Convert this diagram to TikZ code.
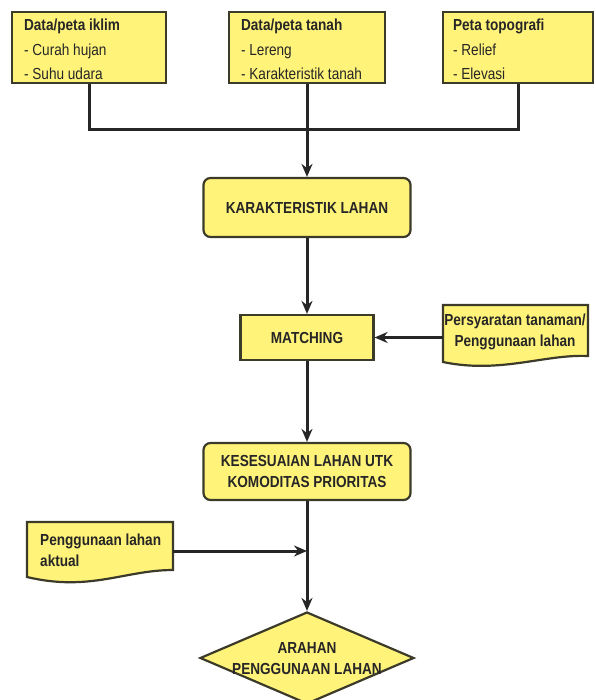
\documentclass[tikz,border=0pt]{standalone}
\usepackage{fontspec}
\setmainfont{Liberation Sans}[FakeStretch=0.85]
\usetikzlibrary{arrows.meta,shapes.geometric}

\definecolor{boxfill}{RGB}{255,243,122}
\definecolor{boxline}{RGB}{60,58,40}
\tikzset{
  box/.style={draw=boxline, fill=boxfill, line width=2.2pt},
  topbox/.style={box, minimum width=#1, minimum height=71pt, inner sep=0pt},
  roundbox/.style={box, rounded corners=7pt, minimum width=207pt, inner sep=0pt,
    font=\fontsize{16}{21}\selectfont\bfseries, align=center, text=black!85},
  txt/.style={inner sep=0pt, font=\fontsize{16}{24.5}\selectfont, align=left, text=black!85},
  doctxt/.style={inner sep=0pt, font=\fontsize{16}{21}\selectfont\bfseries, text=black!85},
  conn/.style={line width=3pt, draw=black!85},
  arr/.style={conn, -{Stealth[length=13pt,width=11pt]}},
}

\begin{document}
\begin{tikzpicture}[x=1pt,y=-1pt]
  \useasboundingbox (0,0) rectangle (595,700);

  % data sources
  \node[topbox=154pt] (iklim) at (89,47.5) {};
  \node[txt, anchor=north west] (iklimtxt) at ([xshift=13pt,yshift=-8pt]iklim.north west)
    {\textbf{Data/peta iklim}\\- Curah hujan\\- Suhu udara};
  \node[topbox=156pt] (tanah) at (307,47.5) {};
  \node[txt, anchor=north west] (tanahtxt) at ([xshift=13pt,yshift=-8pt]tanah.north west)
    {\textbf{Data/peta tanah}\\- Lereng\\- Karakteristik tanah};
  \node[topbox=150pt] (topo) at (518,47.5) {};
  \node[txt, anchor=north west] (topotxt) at ([xshift=11pt,yshift=-8pt]topo.north west)
    {\textbf{Peta topografi}\\- Relief\\- Elevasi};

  \coordinate (join) at (307,130);
  \draw[conn] (iklim.south) |- (join) -| (topo.south);

  % main column
  \node[roundbox, minimum height=59pt] (karak) at (307,207.5) {KARAKTERISTIK LAHAN};
  \node[box, minimum width=133pt, minimum height=45pt, inner sep=0pt,
    font=\fontsize{16}{21}\selectfont\bfseries, text=black!85] (match) at (307,337.5) {MATCHING};
  \node[roundbox, minimum height=57pt] (kes) at (307,471.5)
    {KESESUAIAN LAHAN UTK\\KOMODITAS PRIORITAS};
  \node[box, diamond, minimum width=214pt, minimum height=92pt, inner sep=0pt] (arahan) at (307,658) {};
  \node[doctxt, align=center] (arahantxt) at (307,659) {ARAHAN\\PENGGUNAAN LAHAN};

  % documents
  \draw[box] (443,305) -- (588,305) -- (588,356)
    .. controls (545,354) and (500,374) .. (443,362) -- cycle;
  \node[doctxt, align=center] (syarat) at (515,332) {Persyaratan tanaman/\\Penggunaan lahan};
  \coordinate (syaratw) at (443,337.5);

  \draw[box] (27,522) -- (173,522) -- (173,570)
    .. controls (125,570) and (90,592) .. (27,577) -- cycle;
  \node[doctxt, align=left, anchor=west] (aktual) at (40,550) {Penggunaan lahan\\aktual};
  \coordinate (aktualw) at (173,551);

  % connectors
  \draw[arr] (tanah.south) -- (karak.north);
  \draw[arr] (karak.south) -- (match.north);
  \draw[arr] (syaratw) -- (match.east);
  \draw[arr] (match.south) -- (kes.north);
  \draw[arr] (kes.south) -- (arahan.north);
  \draw[arr] (aktualw) -- (aktualw -| kes.south);
\end{tikzpicture}
\end{document}
